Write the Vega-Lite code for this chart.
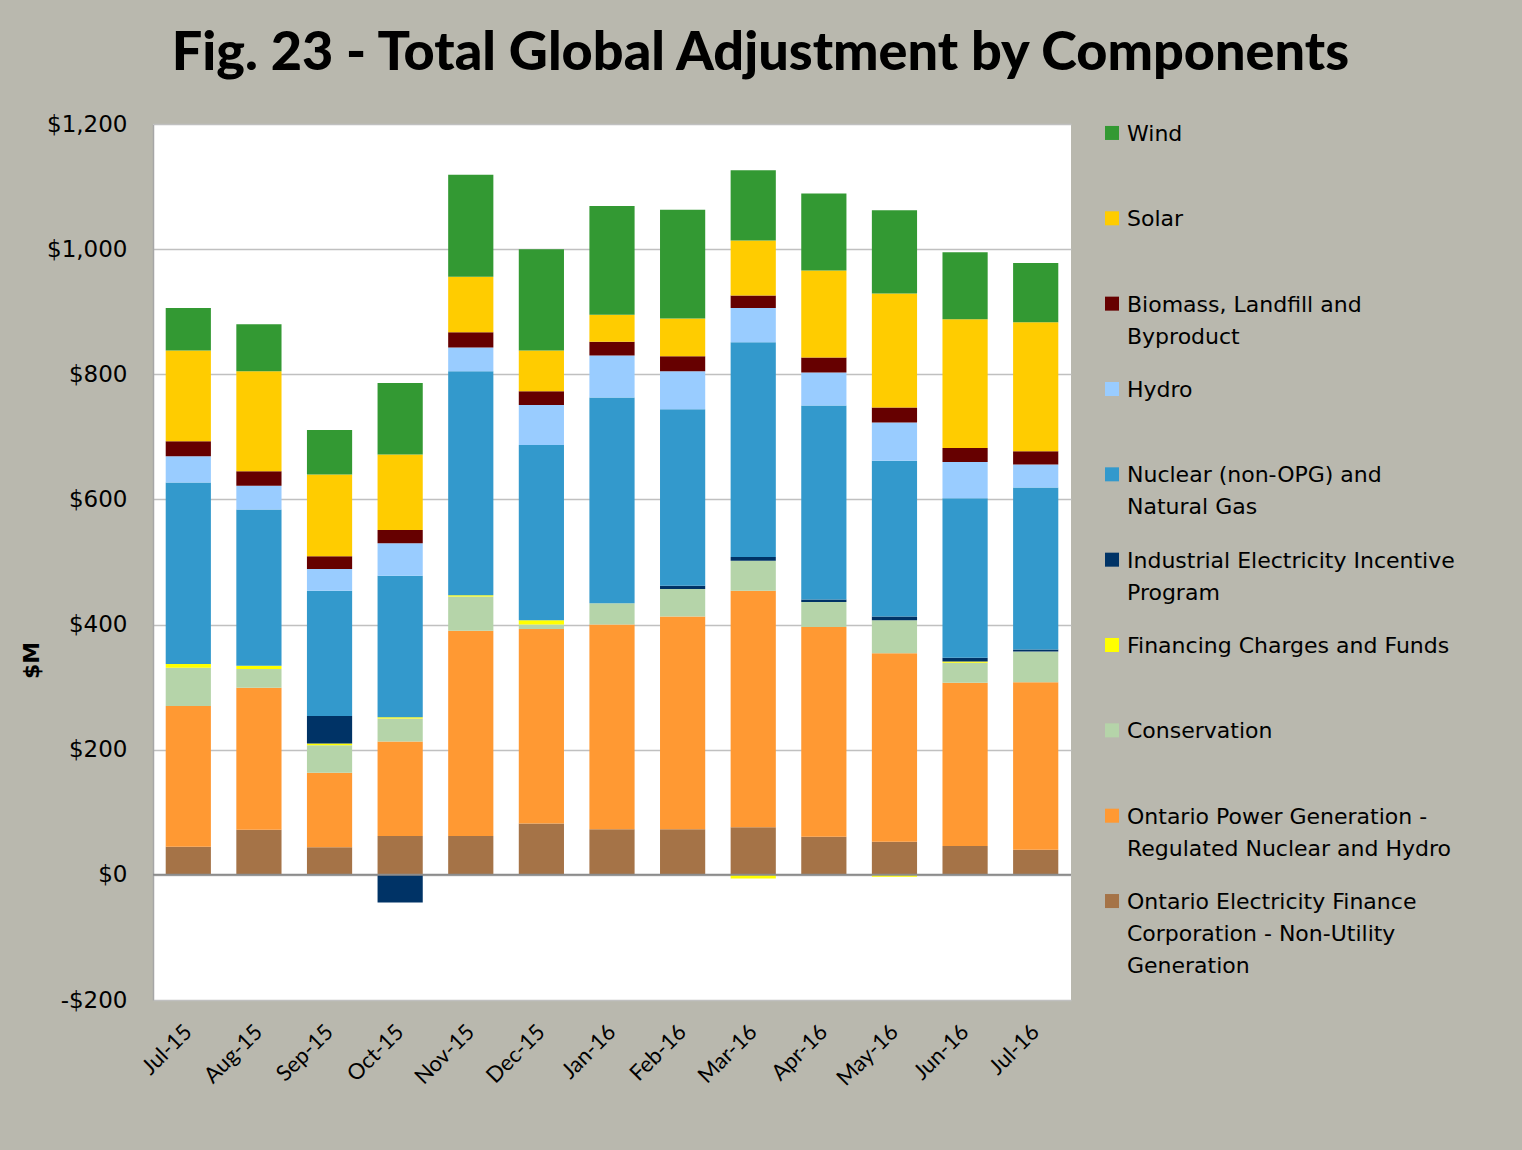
{
  "$schema": "https://vega.github.io/schema/vega-lite/v6.json",
  "background": "#B9B8AE",
  "padding": {"left": 20, "top": 27, "right": 150, "bottom": 150},
  "title": {
    "text": "Fig. 23 - Total Global Adjustment by Components",
    "font": "Lato", "fontSize": 54, "fontWeight": 900, "color": "#000000",
    "anchor": "middle", "frame": "bounds", "offset": 32, "dx": 23
  },
  "bounds": "flush",
  "spacing": 34,
  "config": {"view": {"stroke": null}, "font": "DejaVu Sans"},
  "datasets": {
    "ga": [
      {"month": "Jul-15", "component": "Ontario Electricity Finance Corporation - Non-Utility Generation", "value": 45},
      {"month": "Jul-15", "component": "Ontario Power Generation - Regulated Nuclear and Hydro", "value": 225},
      {"month": "Jul-15", "component": "Conservation", "value": 61},
      {"month": "Jul-15", "component": "Financing Charges and Funds", "value": 6},
      {"month": "Jul-15", "component": "Nuclear (non-OPG) and Natural Gas", "value": 290},
      {"month": "Jul-15", "component": "Hydro", "value": 42},
      {"month": "Jul-15", "component": "Biomass, Landfill and Byproduct", "value": 24},
      {"month": "Jul-15", "component": "Solar", "value": 145},
      {"month": "Jul-15", "component": "Wind", "value": 68},

      {"month": "Aug-15", "component": "Ontario Electricity Finance Corporation - Non-Utility Generation", "value": 72},
      {"month": "Aug-15", "component": "Ontario Power Generation - Regulated Nuclear and Hydro", "value": 227},
      {"month": "Aug-15", "component": "Conservation", "value": 30},
      {"month": "Aug-15", "component": "Financing Charges and Funds", "value": 5},
      {"month": "Aug-15", "component": "Nuclear (non-OPG) and Natural Gas", "value": 250},
      {"month": "Aug-15", "component": "Hydro", "value": 38},
      {"month": "Aug-15", "component": "Biomass, Landfill and Byproduct", "value": 23},
      {"month": "Aug-15", "component": "Solar", "value": 160},
      {"month": "Aug-15", "component": "Wind", "value": 75},

      {"month": "Sep-15", "component": "Ontario Electricity Finance Corporation - Non-Utility Generation", "value": 44},
      {"month": "Sep-15", "component": "Ontario Power Generation - Regulated Nuclear and Hydro", "value": 119},
      {"month": "Sep-15", "component": "Conservation", "value": 44},
      {"month": "Sep-15", "component": "Financing Charges and Funds", "value": 3},
      {"month": "Sep-15", "component": "Industrial Electricity Incentive Program", "value": 44},
      {"month": "Sep-15", "component": "Nuclear (non-OPG) and Natural Gas", "value": 200},
      {"month": "Sep-15", "component": "Hydro", "value": 35},
      {"month": "Sep-15", "component": "Biomass, Landfill and Byproduct", "value": 20},
      {"month": "Sep-15", "component": "Solar", "value": 131},
      {"month": "Sep-15", "component": "Wind", "value": 71},

      {"month": "Oct-15", "component": "Ontario Electricity Finance Corporation - Non-Utility Generation", "value": 62},
      {"month": "Oct-15", "component": "Ontario Power Generation - Regulated Nuclear and Hydro", "value": 151},
      {"month": "Oct-15", "component": "Conservation", "value": 37},
      {"month": "Oct-15", "component": "Financing Charges and Funds", "value": 2},
      {"month": "Oct-15", "component": "Industrial Electricity Incentive Program", "value": -44},
      {"month": "Oct-15", "component": "Nuclear (non-OPG) and Natural Gas", "value": 226},
      {"month": "Oct-15", "component": "Hydro", "value": 52},
      {"month": "Oct-15", "component": "Biomass, Landfill and Byproduct", "value": 21},
      {"month": "Oct-15", "component": "Solar", "value": 121},
      {"month": "Oct-15", "component": "Wind", "value": 114},

      {"month": "Nov-15", "component": "Ontario Electricity Finance Corporation - Non-Utility Generation", "value": 62},
      {"month": "Nov-15", "component": "Ontario Power Generation - Regulated Nuclear and Hydro", "value": 328},
      {"month": "Nov-15", "component": "Conservation", "value": 55},
      {"month": "Nov-15", "component": "Financing Charges and Funds", "value": 2},
      {"month": "Nov-15", "component": "Nuclear (non-OPG) and Natural Gas", "value": 358},
      {"month": "Nov-15", "component": "Hydro", "value": 38},
      {"month": "Nov-15", "component": "Biomass, Landfill and Byproduct", "value": 24},
      {"month": "Nov-15", "component": "Solar", "value": 89},
      {"month": "Nov-15", "component": "Wind", "value": 163},

      {"month": "Dec-15", "component": "Ontario Electricity Finance Corporation - Non-Utility Generation", "value": 82},
      {"month": "Dec-15", "component": "Ontario Power Generation - Regulated Nuclear and Hydro", "value": 311},
      {"month": "Dec-15", "component": "Conservation", "value": 7},
      {"month": "Dec-15", "component": "Financing Charges and Funds", "value": 7},
      {"month": "Dec-15", "component": "Nuclear (non-OPG) and Natural Gas", "value": 280},
      {"month": "Dec-15", "component": "Hydro", "value": 64},
      {"month": "Dec-15", "component": "Biomass, Landfill and Byproduct", "value": 22},
      {"month": "Dec-15", "component": "Solar", "value": 65},
      {"month": "Dec-15", "component": "Wind", "value": 162},

      {"month": "Jan-16", "component": "Ontario Electricity Finance Corporation - Non-Utility Generation", "value": 73},
      {"month": "Jan-16", "component": "Ontario Power Generation - Regulated Nuclear and Hydro", "value": 327},
      {"month": "Jan-16", "component": "Conservation", "value": 34},
      {"month": "Jan-16", "component": "Nuclear (non-OPG) and Natural Gas", "value": 329},
      {"month": "Jan-16", "component": "Hydro", "value": 67},
      {"month": "Jan-16", "component": "Biomass, Landfill and Byproduct", "value": 22},
      {"month": "Jan-16", "component": "Solar", "value": 43},
      {"month": "Jan-16", "component": "Wind", "value": 174},

      {"month": "Feb-16", "component": "Ontario Electricity Finance Corporation - Non-Utility Generation", "value": 73},
      {"month": "Feb-16", "component": "Ontario Power Generation - Regulated Nuclear and Hydro", "value": 340},
      {"month": "Feb-16", "component": "Conservation", "value": 44},
      {"month": "Feb-16", "component": "Industrial Electricity Incentive Program", "value": 5},
      {"month": "Feb-16", "component": "Nuclear (non-OPG) and Natural Gas", "value": 282},
      {"month": "Feb-16", "component": "Hydro", "value": 61},
      {"month": "Feb-16", "component": "Biomass, Landfill and Byproduct", "value": 24},
      {"month": "Feb-16", "component": "Solar", "value": 60},
      {"month": "Feb-16", "component": "Wind", "value": 174},

      {"month": "Mar-16", "component": "Ontario Electricity Finance Corporation - Non-Utility Generation", "value": 76},
      {"month": "Mar-16", "component": "Ontario Power Generation - Regulated Nuclear and Hydro", "value": 378},
      {"month": "Mar-16", "component": "Conservation", "value": 48},
      {"month": "Mar-16", "component": "Financing Charges and Funds", "value": -6},
      {"month": "Mar-16", "component": "Industrial Electricity Incentive Program", "value": 6},
      {"month": "Mar-16", "component": "Nuclear (non-OPG) and Natural Gas", "value": 343},
      {"month": "Mar-16", "component": "Hydro", "value": 55},
      {"month": "Mar-16", "component": "Biomass, Landfill and Byproduct", "value": 20},
      {"month": "Mar-16", "component": "Solar", "value": 88},
      {"month": "Mar-16", "component": "Wind", "value": 112},

      {"month": "Apr-16", "component": "Ontario Electricity Finance Corporation - Non-Utility Generation", "value": 61},
      {"month": "Apr-16", "component": "Ontario Power Generation - Regulated Nuclear and Hydro", "value": 335},
      {"month": "Apr-16", "component": "Conservation", "value": 40},
      {"month": "Apr-16", "component": "Industrial Electricity Incentive Program", "value": 4},
      {"month": "Apr-16", "component": "Nuclear (non-OPG) and Natural Gas", "value": 310},
      {"month": "Apr-16", "component": "Hydro", "value": 53},
      {"month": "Apr-16", "component": "Biomass, Landfill and Byproduct", "value": 24},
      {"month": "Apr-16", "component": "Solar", "value": 139},
      {"month": "Apr-16", "component": "Wind", "value": 123},

      {"month": "May-16", "component": "Ontario Electricity Finance Corporation - Non-Utility Generation", "value": 53},
      {"month": "May-16", "component": "Ontario Power Generation - Regulated Nuclear and Hydro", "value": 301},
      {"month": "May-16", "component": "Conservation", "value": 53},
      {"month": "May-16", "component": "Financing Charges and Funds", "value": -3},
      {"month": "May-16", "component": "Industrial Electricity Incentive Program", "value": 6},
      {"month": "May-16", "component": "Nuclear (non-OPG) and Natural Gas", "value": 249},
      {"month": "May-16", "component": "Hydro", "value": 61},
      {"month": "May-16", "component": "Biomass, Landfill and Byproduct", "value": 24},
      {"month": "May-16", "component": "Solar", "value": 182},
      {"month": "May-16", "component": "Wind", "value": 133},

      {"month": "Jun-16", "component": "Ontario Electricity Finance Corporation - Non-Utility Generation", "value": 46},
      {"month": "Jun-16", "component": "Ontario Power Generation - Regulated Nuclear and Hydro", "value": 261},
      {"month": "Jun-16", "component": "Conservation", "value": 32},
      {"month": "Jun-16", "component": "Financing Charges and Funds", "value": 2},
      {"month": "Jun-16", "component": "Industrial Electricity Incentive Program", "value": 6},
      {"month": "Jun-16", "component": "Nuclear (non-OPG) and Natural Gas", "value": 255},
      {"month": "Jun-16", "component": "Hydro", "value": 58},
      {"month": "Jun-16", "component": "Biomass, Landfill and Byproduct", "value": 22},
      {"month": "Jun-16", "component": "Solar", "value": 206},
      {"month": "Jun-16", "component": "Wind", "value": 107},

      {"month": "Jul-16", "component": "Ontario Electricity Finance Corporation - Non-Utility Generation", "value": 40},
      {"month": "Jul-16", "component": "Ontario Power Generation - Regulated Nuclear and Hydro", "value": 268},
      {"month": "Jul-16", "component": "Conservation", "value": 49},
      {"month": "Jul-16", "component": "Industrial Electricity Incentive Program", "value": 3},
      {"month": "Jul-16", "component": "Nuclear (non-OPG) and Natural Gas", "value": 259},
      {"month": "Jul-16", "component": "Hydro", "value": 37},
      {"month": "Jul-16", "component": "Biomass, Landfill and Byproduct", "value": 21},
      {"month": "Jul-16", "component": "Solar", "value": 206},
      {"month": "Jul-16", "component": "Wind", "value": 95}
    ],
    "legend": [
      {"component": "Wind", "label": "Wind"},
      {"component": "Solar", "label": "Solar"},
      {"component": "Biomass, Landfill and Byproduct", "label": "Biomass, Landfill and\nByproduct"},
      {"component": "Hydro", "label": "Hydro"},
      {"component": "Nuclear (non-OPG) and Natural Gas", "label": "Nuclear (non-OPG) and\nNatural Gas"},
      {"component": "Industrial Electricity Incentive Program", "label": "Industrial Electricity Incentive\nProgram"},
      {"component": "Financing Charges and Funds", "label": "Financing Charges and Funds"},
      {"component": "Conservation", "label": "Conservation"},
      {"component": "Ontario Power Generation - Regulated Nuclear and Hydro", "label": "Ontario Power Generation -\nRegulated Nuclear and Hydro"},
      {"component": "Ontario Electricity Finance Corporation - Non-Utility Generation", "label": "Ontario Electricity Finance\nCorporation - Non-Utility\nGeneration"}
    ]
  },
  "hconcat": [
    {
      "width": 918,
      "height": 876,
      "view": {"fill": "#FFFFFF", "stroke": null},
      "layer": [
        {
          "data": {"name": "ga"},
          "transform": [
            {"calculate": "indexof(['Wind', 'Solar', 'Biomass, Landfill and Byproduct', 'Hydro', 'Nuclear (non-OPG) and Natural Gas', 'Industrial Electricity Incentive Program', 'Financing Charges and Funds', 'Conservation', 'Ontario Power Generation - Regulated Nuclear and Hydro', 'Ontario Electricity Finance Corporation - Non-Utility Generation'], datum.component)", "as": "stack_rank"}
          ],
          "mark": {"type": "bar"},
          "encoding": {
            "x": {
              "field": "month", "type": "nominal", "sort": null,
              "scale": {"paddingInner": 0.36, "paddingOuter": 0.18},
              "axis": {
                "title": null, "labelAngle": -45, "labelAlign": "right", "labelBaseline": "middle",
                "labelFont": "Lato", "labelFontSize": 22, "labelColor": "#000000",
                "labelPadding": 28, "ticks": false, "tickSize": 0, "domain": false, "grid": false
              }
            },
            "y": {
              "field": "value", "type": "quantitative", "stack": "zero",
              "scale": {"domain": [-200, 1200], "nice": false, "zero": false},
              "axis": {
                "values": [-200, 0, 200, 400, 600, 800, 1000, 1200],
                "labelExpr": "datum.value < 0 ? '-$' + format(-datum.value, ',') : '$' + format(datum.value, ',')",
                "labelFont": "DejaVu Sans", "labelFontSize": 23, "labelColor": "#000000",
                "labelPadding": 26, "ticks": false, "tickSize": 0,
                "domain": true, "domainColor": "#A6A6A6", "domainWidth": 1.5,
                "grid": true, "gridColor": "#C0C0C0", "gridWidth": 1.5,
                "title": "$M", "titleFont": "DejaVu Sans", "titleFontSize": 22, "titleFontWeight": "bold",
                "titleColor": "#000000", "titleX": -122, "titleY": 536,
                "titleBaseline": "middle", "titleAlign": "center"
              }
            },
            "order": {"field": "stack_rank", "type": "quantitative", "sort": "descending"},
            "color": {
              "field": "component", "type": "nominal",
              "scale": {
                "domain": ["Wind", "Solar", "Biomass, Landfill and Byproduct", "Hydro", "Nuclear (non-OPG) and Natural Gas", "Industrial Electricity Incentive Program", "Financing Charges and Funds", "Conservation", "Ontario Power Generation - Regulated Nuclear and Hydro", "Ontario Electricity Finance Corporation - Non-Utility Generation"],
                "range": ["#339933", "#FFCC00", "#660000", "#99CCFF", "#3399CC", "#003366", "#FFFF00", "#B5D4A9", "#FF9933", "#A57347"]
              },
              "legend": null
            }
          }
        },
        {
          "data": {"values": [{"level": 0}]},
          "mark": {"type": "rule", "color": "#8C8C8C", "strokeWidth": 2},
          "encoding": {"y": {"field": "level", "type": "quantitative"}}
        }
      ]
    },
    {
      "width": 14,
      "height": 786,
      "data": {"name": "legend"},
      "layer": [
        {
          "mark": {"type": "square", "size": 196, "opacity": 1, "filled": true},
          "encoding": {
            "y": {"field": "component", "type": "nominal", "sort": null, "scale": {"type": "point", "padding": 0.105}, "axis": null},
            "color": {
              "field": "component", "type": "nominal",
              "scale": {
                "domain": ["Wind", "Solar", "Biomass, Landfill and Byproduct", "Hydro", "Nuclear (non-OPG) and Natural Gas", "Industrial Electricity Incentive Program", "Financing Charges and Funds", "Conservation", "Ontario Power Generation - Regulated Nuclear and Hydro", "Ontario Electricity Finance Corporation - Non-Utility Generation"],
                "range": ["#339933", "#FFCC00", "#660000", "#99CCFF", "#3399CC", "#003366", "#FFFF00", "#B5D4A9", "#FF9933", "#A57347"]
              },
              "legend": null
            }
          }
        },
        {
          "mark": {"type": "text", "align": "left", "baseline": "top", "dx": 15, "dy": -9, "lineBreak": "\n", "lineHeight": 32, "font": "DejaVu Sans", "fontSize": 22, "color": "#000000"},
          "encoding": {
            "y": {"field": "component", "type": "nominal", "sort": null, "scale": {"type": "point", "padding": 0.105}, "axis": null},
            "text": {"field": "label"}
          }
        }
      ]
    }
  ]
}
